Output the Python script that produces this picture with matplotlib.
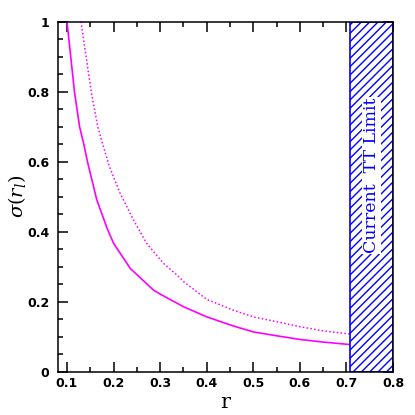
# sigma(r_l) against r, with the current TT limit shaded
import matplotlib
matplotlib.use("Agg")
import matplotlib.pyplot as plt
from matplotlib.ticker import MultipleLocator, FixedFormatter, FixedLocator

plt.rcParams['hatch.linewidth'] = 1.0
plt.rcParams['mathtext.fontset'] = 'dejavuserif'

# solid curve
r_solid = [0.100, 0.108, 0.116, 0.127, 0.136, 0.144, 0.150, 0.164, 0.186, 0.200,
           0.207, 0.236, 0.257, 0.286, 0.300, 0.350, 0.400, 0.457, 0.500, 0.550,
           0.600, 0.650, 0.707]
sig_solid = [1.00, 0.90, 0.80, 0.70, 0.650, 0.600, 0.567, 0.491, 0.410, 0.367,
             0.353, 0.295, 0.269, 0.233, 0.222, 0.186, 0.157, 0.131, 0.114, 0.103,
             0.0925, 0.085, 0.078]

# dotted curve
r_dot = [0.130, 0.141, 0.152, 0.166, 0.174, 0.191, 0.214, 0.243, 0.271, 0.307,
         0.339, 0.350, 0.400, 0.457, 0.500, 0.550, 0.600, 0.650, 0.707]
sig_dot = [1.00, 0.90, 0.80, 0.70, 0.662, 0.586, 0.510, 0.433, 0.367, 0.310,
           0.273, 0.258, 0.207, 0.176, 0.157, 0.143, 0.129, 0.117, 0.108]

tt_limit = (0.707, 0.8)
limit_label = "Current  TT Limit"

xticks = [0.1, 0.2, 0.3, 0.4, 0.5, 0.6, 0.7, 0.8]
yticks = [0, 0.2, 0.4, 0.6, 0.8, 1]
ytick_labels = ["0", "0.2", "0.4", "0.6", "0.8", "1"]

fig = plt.figure(figsize=(4.15, 4.15), dpi=100)
ax = fig.add_axes([0.139, 0.104, 0.808, 0.844])

ax.plot(r_solid, sig_solid, "-", color="#ff00ff", lw=1.2)
ax.plot(r_dot, sig_dot, color="#ff00ff", lw=1.1, linestyle=(0, (1, 1.5)))

ax.axvspan(tt_limit[0], tt_limit[1], facecolor="white", edgecolor="#0000ff",
           hatch="////", lw=1.2, zorder=3)
ax.text(0.754, 0.56, limit_label, rotation=90, color="#0000ff",
        fontsize=12.5, family="DejaVu Serif", ha="center", va="center",
        zorder=4, bbox=dict(facecolor="white", edgecolor="none", pad=0.5))

ax.set_xlim(0.08, 0.8)
ax.set_ylim(0, 1)
ax.xaxis.set_major_locator(FixedLocator(xticks))
ax.xaxis.set_minor_locator(MultipleLocator(0.05))
ax.yaxis.set_major_locator(FixedLocator(yticks))
ax.yaxis.set_major_formatter(FixedFormatter(ytick_labels))
ax.yaxis.set_minor_locator(MultipleLocator(0.05))
ax.tick_params(which="both", direction="in", top=True, right=True, width=1.1)
ax.tick_params(which="major", length=7)
ax.tick_params(which="minor", length=3.5)
ax.tick_params(axis="y", pad=6)
ax.tick_params(axis="x", pad=4)
for lab in ax.get_xticklabels() + ax.get_yticklabels():
    lab.set_fontweight("bold")
    lab.set_fontsize(9)
for sp in ax.spines.values():
    sp.set_linewidth(1.1)
    sp.set_zorder(5)

ax.set_xlabel("r", family="DejaVu Serif", fontsize=15, labelpad=2)
ax.set_ylabel(r"$\sigma(r_l)$", fontsize=14, labelpad=-1)

fig.savefig("out.png", dpi=100)
plt.close()
